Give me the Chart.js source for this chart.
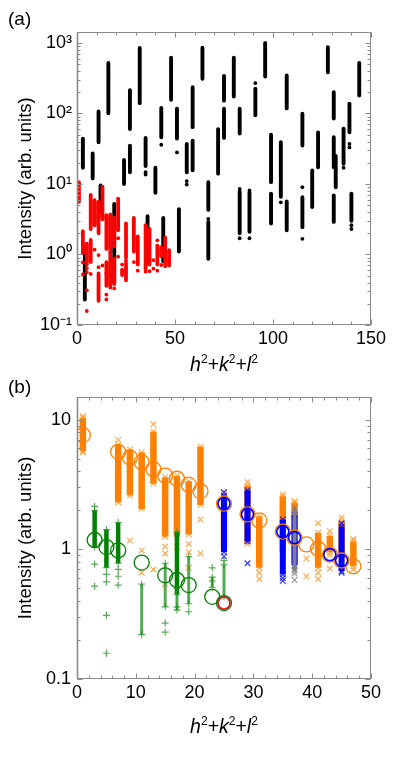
<!DOCTYPE html>
<html>
<head>
<meta charset="utf-8">
<script src="https://cdn.jsdelivr.net/npm/chart.js@4.4.1/dist/chart.umd.min.js"></script>
<style>
  body { margin: 0; background: #fff; }
  #page { position: relative; width: 415px; height: 762px; overflow: hidden;
          font-family: "Liberation Sans", Arial, sans-serif; color: #000; }
  .box { position: absolute; left: 0; width: 415px; }
  .box canvas { display: block; }
  .txt { position: absolute; white-space: nowrap; line-height: 1; }
  .ttl { font-size: 19.5px; transform: translateX(-50%); }
  .ttl sup { font-size: 12px; vertical-align: 0; position: relative; top: -8px; }
</style>
</head>
<body>
<div id="page">
  <div class="box" style="top:0;height:380px"><canvas id="chartA" width="415" height="380"></canvas></div>
  <div class="box" style="top:380px;height:382px"><canvas id="chartB" width="415" height="382"></canvas></div>
  <div class="txt" style="left:8px;top:9px;font-size:19px">(a)</div>
  <div class="txt" style="left:8px;top:377px;font-size:19px">(b)</div>
  <div class="txt ttl" style="left:224px;top:355px"><i>h</i><sup>2</sup>+<i>k</i><sup>2</sup>+<i>l</i><sup>2</sup></div>
  <div class="txt ttl" style="left:224px;top:717px"><i>h</i><sup>2</sup>+<i>k</i><sup>2</sup>+<i>l</i><sup>2</sup></div>
</div>
<script>
// ---------- panel (a) ----------
const aXTicks = [0, 50, 100, 150];
const aXTickLabels = ["0", "50", "100", "150"];
const aYTicks = [0.1, 1, 10, 100, 1000];
const aYTickLabels = ["10⁻¹", "10⁰", "10¹", "10²", "10³"];

// black columns: x, lowest and highest intensity of each strip
const aColX  = [3, 4, 8, 11, 12, 16, 19, 24, 27, 27, 32, 35, 36, 40, 43, 44, 48, 51, 52, 56, 59, 59, 64, 67, 67, 72, 75, 75, 80, 83, 83, 88, 91, 96, 99, 99, 104, 107, 107, 115, 115, 120, 123, 128, 131, 131, 131, 132, 136, 139, 140, 144];
const aColLo = [17, 0.23, 12, 39, 4.0, 101, 0.4, 10, 60, 14.7, 140, 18, 0.75, 7.5, 46, 0.8, 156, 44, 1.1, 14.7, 64, 15.6, 310, 4.3, 0.87, 14, 152, 45, 174, 52, 2.0, 2.1, 94, 335, 11, 2.75, 6.6, 118, 2.2, 35, 2.44, 4.7, 17.3, 385, 85, 17.3, 2.9, 9, 19.3, 54, 3.0, 180];
const aColHi = [44, 1.3, 27, 107, 9.5, 520, 5.2, 22, 213, 35, 850, 45, 3.5, 17, 120, 3.3, 620, 117, 4.4, 37, 236, 41, 855, 10.6, 2.9, 60, 340, 117, 617, 117, 7.8, 7.5, 225, 1000, 50, 7.3, 39, 345, 5.65, 99, 6.5, 15.5, 54, 870, 200, 46, 6.9, 25, 61, 138, 7.3, 520];
const aDotX  = [35, 35, 43, 51, 56, 56, 67, 83, 83, 88, 88, 91, 99, 104, 115, 115, 136, 139, 139, 140, 140];
const aDotY  = [14.7, 13.6, 36, 28, 11, 9.8, 3.2, 8.5, 1.7, 1.7, 8.1, 270, 10.6, 5.5, 9, 1.67, 17, 37, 33, 2.6, 2.3];

// red columns
const aRedX  = [1, 3, 5, 7, 7, 9, 11, 11, 13, 15, 15, 17, 19, 19, 21, 23, 25, 25, 29, 31, 35, 37, 41, 43, 45, 47];
const aRedLo = [5.6, 1.04, 0.72, 2.3, 0.78, 2.6, 2.0, 0.22, 3.15, 1.2, 0.36, 0.34, 1.3, 0.38, 2.2, 0.51, 0.9, 0.43, 1.1, 0.72, 0.62, 0.72, 0.72, 0.95, 0.68, 0.74];
const aRedHi = [10.6, 2.14, 1.42, 7.0, 1.61, 5.9, 5.6, 0.54, 9.2, 3.6, 0.78, 3.7, 3.35, 0.88, 6.2, 0.61, 2.75, 0.76, 3.3, 1.8, 2.6, 2.3, 1.34, 1.27, 1.74, 1.15];
const aRedDotX = [3, 3, 5, 5, 5, 5, 7, 9, 11, 11, 13, 15, 15, 15, 19, 19, 21, 21, 23, 25, 29, 31, 35, 37, 39, 39, 41, 41, 43, 47];
const aRedDotY = [0.77, 0.52, 0.64, 0.56, 0.31, 0.158, 0.53, 1.17, 0.98, 0.66, 0.7, 0.54, 0.27, 0.23, 0.72, 0.33, 1.7, 0.93, 0.72, 0.82, 0.78, 0.59, 0.57, 0.58, 0.83, 0.63, 1.59, 0.59, 0.71, 0.7];

// ---------- panel (b) ----------
const bXTicks = [0, 10, 20, 30, 40, 50];
const bXTickLabels = ["0", "10", "20", "30", "40", "50"];
const bYTicks = [0.1, 1, 10];
const bYTickLabels = ["0.1", "1", "10"];

// orange x markers
const bOrX  = [1, 7, 9, 11, 13, 15, 17, 19, 21, 25, 29, 31, 35, 37, 41, 43, 45, 47];
const bOrLo = [5.7, 2.3, 2.6, 2.05, 3.2, 1.25, 1.25, 1.3, 2.2, 1.0, 1.1, 0.72, 0.95, 0.8, 0.72, 0.95, 0.85, 0.74];
const bOrHi = [10.3, 6.4, 5.9, 5.6, 8.1, 3.6, 3.7, 3.35, 6.2, 2.6, 3.1, 1.8, 2.55, 2.3, 1.34, 1.27, 1.65, 1.15];
const bOrMkX = [1, 1, 7, 9, 11, 11, 13, 13, 15, 15, 15, 17, 19, 19, 19, 21, 21, 25, 29, 31, 31, 35, 37, 39, 39, 41, 41, 41, 43, 43, 43, 45, 47, 47];
const bOrMkY = [10.6, 5.6, 7.0, 1.17, 0.98, 0.66, 9.2, 0.7, 1.05, 0.93, 0.54, 1.05, 1.1, 0.95, 0.72, 1.7, 0.93, 2.75, 3.3, 0.66, 0.59, 2.65, 2.35, 0.85, 0.62, 1.59, 0.66, 0.59, 1.38, 0.9, 0.71, 1.75, 1.2, 0.7];

// blue x markers
const bBlX  = [25, 29, 35, 37, 45];
const bBlLo = [0.95, 1.15, 0.64, 0.75, 0.68];
const bBlHi = [2.6, 2.85, 1.7, 1.85, 1.5];
const bBlMkX = [25, 25, 29, 35, 35, 45, 45];
const bBlMkY = [2.75, 0.88, 0.78, 0.6, 0.57, 1.59, 0.66];

// grey x markers
const bGyX  = [37];
const bGyLo = [0.68];
const bGyHi = [2.1];
const bGyMkX = [37, 37];
const bGyMkY = [0.65, 0.58];

// green + markers
const bGrX  = [3, 5, 7, 17];
const bGrLo = [1.04, 0.72, 0.78, 0.45];
const bGrHi = [2.0, 1.42, 1.61, 1.36];
const bGrThinX  = [11, 15, 17, 19, 23, 25];
const bGrThinLo = [0.22, 0.36, 0.34, 0.38, 0.51, 0.43];
const bGrThinHi = [0.54, 0.78, 0.5, 0.88, 0.61, 0.76];
const bGrMkX = [3, 3, 3, 5, 5, 5, 5, 7, 7, 7, 15, 15, 17, 19, 23, 23, 25];
const bGrMkY = [2.14, 0.77, 0.52, 0.64, 0.56, 0.31, 0.158, 0.7, 0.62, 0.53, 0.27, 0.23, 0.36, 0.33, 0.72, 0.57, 0.82];

// open circles
const bOcX = [1, 7, 9, 11, 13, 15, 17, 19, 21, 31, 39, 41, 47];
const bOcY = [7.6, 5.65, 5.1, 4.7, 4.15, 3.7, 3.5, 3.15, 2.8, 1.67, 1.09, 1.01, 0.74];
const bBcX = [25, 29, 35, 37, 43, 45];
const bBcY = [2.25, 1.86, 1.37, 1.23, 0.91, 0.82];
const bGcX = [3, 5, 7, 11, 15, 17, 19, 23, 25];
const bGcY = [1.18, 1.04, 0.98, 0.79, 0.63, 0.58, 0.53, 0.43, 0.385];
const bRcX = [25];
const bRcY = [0.385];

const ORANGE = "rgb(255,128,0)";
const ORANGE_L = "rgba(255,140,20,0.75)";
const BLUE = "rgb(0,0,255)";
const GREEN = "rgb(0,128,0)";
const GREEN_L = "rgba(30,140,30,0.75)";
const GREY = "rgb(128,128,128)";
const AXIS = "#8a8a8a";

Chart.defaults.font.family = '"Liberation Sans", Arial, sans-serif';
Chart.defaults.color = "#000";

const col = (xs, lo, hi) => xs.flatMap((x, i) => [{ x, y: lo[i] }, { x, y: hi[i] }, { x, y: null }]);
const pts = (xs, ys) => xs.map((x, i) => ({ x, y: ys[i] }));

const colSet = (data, color, width, order, extra) => Object.assign({
    type: "line", data, order,
    borderColor: color, borderWidth: width, borderCapStyle: "butt",
    pointRadius: 0, spanGaps: false, fill: false, showLine: true
}, extra || {});

const mkSet = (data, color, style, r, order, extra) => Object.assign({
    type: "scatter", data, order,
    pointStyle: style, pointRadius: r, borderColor: color, backgroundColor: color,
    pointBorderWidth: 1.2, showLine: false
}, extra || {});

const labelFor = (ticks, labels) => (v) => {
    const i = ticks.findIndex(t => Math.abs(v - t) < t * 1e-6 + 1e-9);
    return i >= 0 ? labels[i] : null;
};

const logMinor = (majors, max) => {
    const out = [];
    majors.forEach(m => { for (let k = 2; k <= 9; k++) if (m * k <= max) out.push(m * k); });
    return out;
};
const linMinor = (min, max, step) => {
    const out = [];
    for (let v = min; v <= max + 1e-9; v += step) out.push(v);
    return out;
};

// frame with inward ticks on all four sides
const framePlugin = {
    id: "frame",
    afterDatasetsDraw(chart, args, o) {
        const { ctx, chartArea: a } = chart;
        const sx = chart.scales.x, sy = chart.scales.y;
        const L = Math.round(a.left) + 0.5, R = Math.round(a.right) - 0.5;
        const T = Math.round(a.top) + 0.5, B = Math.round(a.bottom) - 0.5;
        ctx.save();
        ctx.strokeStyle = AXIS;
        ctx.lineWidth = 1;
        ctx.beginPath();
        const xt = (v, len) => {
            const p = Math.round(sx.getPixelForValue(v)) + 0.5;
            ctx.moveTo(p, B); ctx.lineTo(p, B - len);
            ctx.moveTo(p, T); ctx.lineTo(p, T + len);
        };
        const yt = (v, len) => {
            const p = Math.round(sy.getPixelForValue(v)) + 0.5;
            ctx.moveTo(L, p); ctx.lineTo(L + len, p);
            ctx.moveTo(R, p); ctx.lineTo(R - len, p);
        };
        o.xMinor.forEach(v => xt(v, 3));
        o.xMajor.forEach(v => xt(v, 5));
        o.yMinor.forEach(v => yt(v, 3));
        o.yMajor.forEach(v => yt(v, 5));
        ctx.stroke();
        ctx.strokeRect(L, T, R - L, B - T);
        ctx.beginPath();
        ctx.lineWidth = 1.6;
        ctx.moveTo(L, T); ctx.lineTo(L, B);
        ctx.stroke();
        ctx.restore();
    }
};

const axes = (cfg) => ({
    x: {
        type: "linear", min: cfg.xMin, max: cfg.xMax,
        grid: { display: false, drawTicks: false }, border: { display: false },
        ticks: { stepSize: cfg.xStep, autoSkip: false, maxRotation: 0, padding: 3,
                 font: { size: 18 }, callback: labelFor(cfg.xTicks, cfg.xLabels) },
        afterFit: s => { s.height = cfg.xHeight; }
    },
    y: {
        type: "logarithmic", min: cfg.yMin, max: cfg.yMax,
        grid: { display: false, drawTicks: false }, border: { display: false },
        ticks: { autoSkip: false, padding: cfg.yPad, font: { size: 18 },
                 callback: labelFor(cfg.yTicks, cfg.yLabels) },
        title: { display: true, text: "Intensity (arb. units)", font: { size: 18.5 },
                 padding: { top: 15, bottom: 0 } },
        afterFit: s => { s.width = 77; }
    }
});

const baseOpts = (pad, scales, frame) => ({
    responsive: false, animation: false, devicePixelRatio: 1, events: [],
    layout: { padding: pad },
    plugins: { legend: { display: false }, tooltip: { enabled: false }, frame },
    scales
});

// ---------- chart (a) ----------
new Chart(document.getElementById("chartA"), {
    type: "scatter",
    data: {
        datasets: [
            mkSet(pts(aRedDotX, aRedDotY), "rgb(255,0,0)", "circle", 1.9, 1, { pointBorderWidth: 0 }),
            colSet(col(aRedX, aRedLo, aRedHi), "rgb(255,0,0)", 3.8, 2, { borderCapStyle: "round" }),
            mkSet(pts(aDotX, aDotY), "#000", "circle", 1.9, 3, { pointBorderWidth: 0 }),
            colSet(col(aColX, aColLo, aColHi), "#000", 3.9, 4, { borderCapStyle: "round" })
        ]
    },
    options: baseOpts({ top: 32, right: 44, bottom: 0, left: 0 },
        axes({ xMin: 0, xMax: 150, xStep: 50, xTicks: aXTicks, xLabels: aXTickLabels, xHeight: 55,
               yMin: 0.1, yMax: 1430, yTicks: aYTicks, yLabels: aYTickLabels, yPad: 5 }),
        { xMajor: aXTicks, xMinor: linMinor(0, 150, 10), yMajor: aYTicks, yMinor: logMinor(aYTicks, 1430) }),
    plugins: [framePlugin]
});

// ---------- chart (b) ----------
const endX = (c) => ({ pointStyle: "crossRot", pointRadius: 4, pointBorderColor: c, pointBorderWidth: 1.1 });
const endP = (c) => ({ pointStyle: "cross", pointRadius: 3.5, pointBorderColor: c, pointBorderWidth: 1.1 });

new Chart(document.getElementById("chartB"), {
    type: "scatter",
    data: {
        datasets: [
            mkSet(pts(bRcX, bRcY), "rgb(220,30,30)", "circle", 6, 1, { backgroundColor: "rgba(0,0,0,0)", pointBorderWidth: 1.8 }),
            mkSet(pts(bGcX, bGcY), GREEN, "circle", 7.5, 2, { backgroundColor: "rgba(0,0,0,0)", pointBorderWidth: 1.3 }),
            mkSet(pts(bBcX, bBcY), BLUE, "circle", 6, 3, { backgroundColor: "rgba(0,0,0,0)", pointBorderWidth: 1.6 }),
            mkSet(pts(bBcX, bBcY), ORANGE, "circle", 7.5, 4, { backgroundColor: "rgba(0,0,0,0)", pointBorderWidth: 1.3 }),
            mkSet(pts(bOcX, bOcY), ORANGE, "circle", 7.5, 5, { backgroundColor: "rgba(0,0,0,0)", pointBorderWidth: 1.3 }),
            mkSet(pts(bGyMkX, bGyMkY), "rgba(128,128,128,0.8)", "crossRot", 4, 10),
            colSet(col(bGyX, bGyLo, bGyHi), GREY, 4, 11, endX("rgba(128,128,128,0.8)")),
            mkSet(pts(bBlMkX, bBlMkY), "rgba(0,0,255,0.8)", "crossRot", 4, 12),
            colSet(col(bBlX, bBlLo, bBlHi), BLUE, 6, 13, endX("rgba(0,0,255,0.8)")),
            mkSet(pts(bGrMkX, bGrMkY), GREEN_L, "cross", 3.5, 14),
            colSet(col(bGrThinX, bGrThinLo, bGrThinHi), GREEN_L, 3, 15, endP(GREEN_L)),
            colSet(col(bGrX, bGrLo, bGrHi), GREEN, 4.5, 16, endP(GREEN_L)),
            mkSet(pts(bOrMkX, bOrMkY), ORANGE_L, "crossRot", 4, 17),
            colSet(col(bOrX, bOrLo, bOrHi), ORANGE, 6.5, 18, endX(ORANGE_L))
        ]
    },
    options: baseOpts({ top: 5, right: 44, bottom: 0, left: 0 },
        axes({ xMin: 0, xMax: 50, xStep: 10, xTicks: bXTicks, xLabels: bXTickLabels, xHeight: 83,
               yMin: 0.1, yMax: 15, yTicks: bYTicks, yLabels: bYTickLabels, yPad: 6 }),
        { xMajor: bXTicks, xMinor: linMinor(0, 50, 2), yMajor: bYTicks, yMinor: logMinor(bYTicks, 15) }),
    plugins: [framePlugin]
});
</script>
</body>
</html>
